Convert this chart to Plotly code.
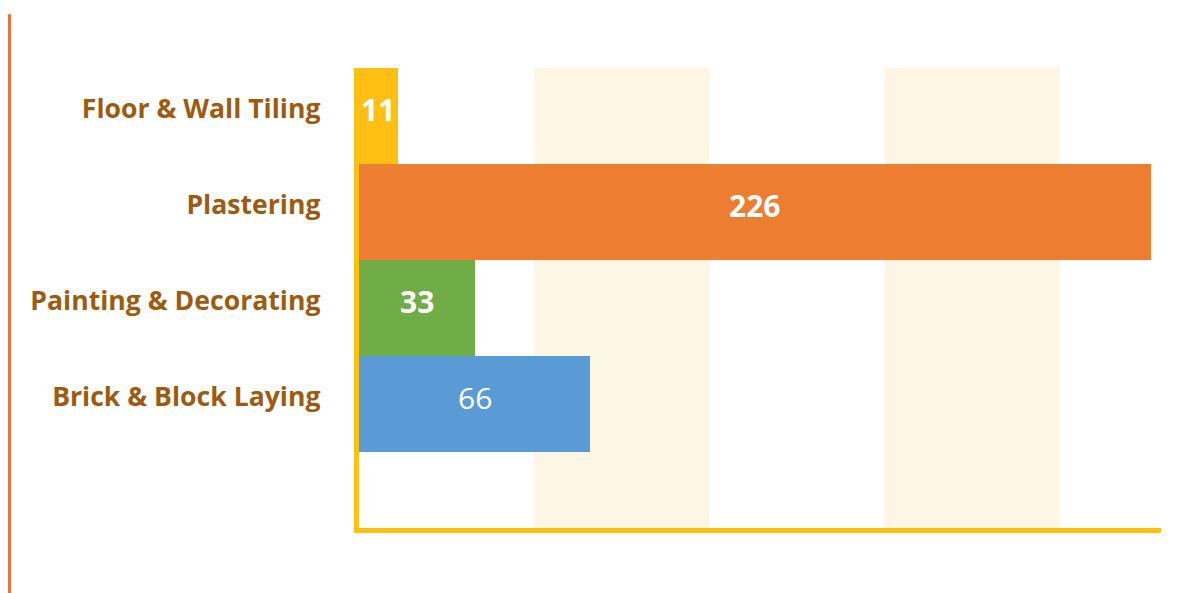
import plotly.graph_objects as go

# Trade categories, top to bottom
trades = ["Floor & Wall Tiling", "Plastering", "Painting & Decorating", "Brick & Block Laying"]
counts = [11, 226, 33, 66]
bar_colors = ["#FFC013", "#ED7D31", "#70AD47", "#5B9BD5"]
bold_label = [True, True, True, False]

# Alternating background bands along the value axis
band_ranges = [(50, 100), (150, 200)]

AXIS_YELLOW = "#FFC013"
LABEL_BROWN = "#9C5B10"
BAND_CREAM = "#FEF6E4"

labels = [f"<b>{v}</b>" if b else f"{v}" for v, b in zip(counts, bold_label)]

fig = go.Figure(
    go.Bar(
        y=trades,
        x=counts,
        orientation="h",
        marker=dict(color=bar_colors, line=dict(width=0)),
        hoverinfo="skip",
    )
)

# Value labels, centred in each bar
for trade, v, lab in zip(trades, counts, labels):
    fig.add_annotation(
        x=v / 2, y=trade, xref="x", yref="y", text=lab, showarrow=False,
        xanchor="center", yanchor="middle", yshift=6,
        font=dict(family="Open Sans", size=30, color="white"),
    )

for x0, x1 in band_ranges:
    fig.add_shape(
        type="rect", xref="x", yref="paper", x0=x0, x1=x1, y0=0, y1=1,
        fillcolor=BAND_CREAM, line=dict(width=0), layer="below",
    )

# Thin accent rule down the left edge of the page
fig.add_shape(
    type="line", xref="paper", yref="paper",
    x0=-0.4358, x1=-0.4358, y0=-0.145, y1=1.117,
    line=dict(color="#EE6F3A", width=3),
)

fig.update_layout(
    width=1179,
    height=593,
    margin=dict(l=359, r=18, t=68, b=65),
    paper_bgcolor="white",
    plot_bgcolor="white",
    bargap=0,
    showlegend=False,
    font=dict(family="Open Sans"),
    xaxis=dict(
        range=[0, 228.9],
        showgrid=False,
        zeroline=False,
        showticklabels=False,
        ticks="",
        showline=True,
        linecolor=AXIS_YELLOW,
        linewidth=5.4,
        fixedrange=True,
    ),
    yaxis=dict(
        type="category",
        categoryorder="array",
        categoryarray=trades,
        range=[4.297, -0.5],
        showgrid=False,
        zeroline=False,
        showline=True,
        linecolor=AXIS_YELLOW,
        linewidth=5.4,
        ticks="",
        ticklabelstandoff=28,
        ticklabelshift=7,
        tickfont=dict(family="Open Sans", size=26.6, color=LABEL_BROWN, weight="bold"),
        fixedrange=True,
    ),
)

fig.write_html("out.html", config={"displayModeBar": False})
